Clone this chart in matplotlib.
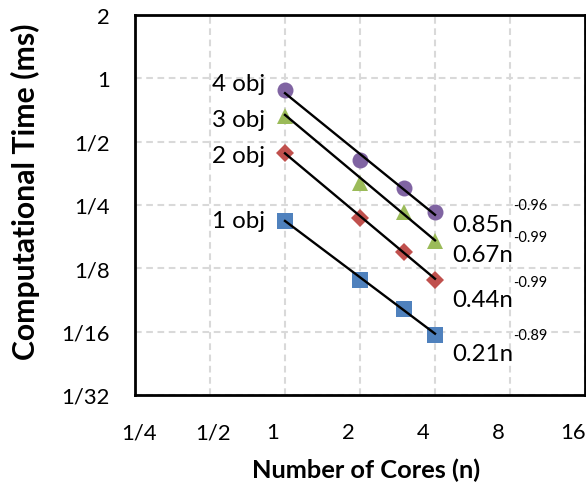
import numpy as np
import matplotlib
matplotlib.use("Agg")
import matplotlib.pyplot as plt
from matplotlib.transforms import ScaledTranslation

plt.rcParams['font.family'] = ['Lato', 'DejaVu Sans']

# ---- data ----
cores = [1, 2, 3, 4]
series_names = ["4 obj", "3 obj", "2 obj", "1 obj"]
t_4obj = [0.883, 0.409, 0.301, 0.231]
t_3obj = [0.664, 0.318, 0.231, 0.169]
t_2obj = [0.442, 0.218, 0.150, 0.110]
t_1obj = [0.209, 0.110, 0.080, 0.0605]
fit_coef = [0.85, 0.67, 0.44, 0.21]
fit_exp = [-0.96, -0.99, -0.99, -0.89]
fit_coef_labels = ["0.85n", "0.67n", "0.44n", "0.21n"]
fit_exp_labels = ["-0.96", "-0.99", "-0.99", "-0.89"]
x_ticks = [0.25, 0.5, 1, 2, 4, 8, 16]
x_tick_labels = ["1/4", "1/2", "1", "2", "4", "8", "16"]
y_ticks = [1/32, 1/16, 1/8, 1/4, 1/2, 1, 2]
y_tick_labels = ["1/32", "1/16", "1/8", "1/4", "1/2", "1", "2"]

series = [t_4obj, t_3obj, t_2obj, t_1obj]
colors = ["#8064A2", "#9BBB59", "#C0504D", "#4F81BD"]
markers = ["o", "^", "D", "s"]
msizes = [11.5, 12, 9.5, 11.5]

# label positions (data coords)
name_pos_y = [0.883, 0.591, 0.399, 0.196]
coef_pos_y = [0.189, 0.135, 0.0825, 0.046]
exp_pos_y = [0.238, 0.169, 0.1035, 0.0577]

fig = plt.figure(figsize=(5.86, 4.85), dpi=100)


def size_for(text, target_px, weight='normal', base=12.0):
    t = fig.text(0, 0, text, fontsize=base, fontweight=weight)
    fig.canvas.draw()
    w = t.get_window_extent(fig.canvas.get_renderer()).width
    t.remove()
    return base * target_px / w


fs_tick = size_for("1/32", 48)
fs_name = size_for("4 obj", 53)
fs_coef = size_for("0.85n", 60.5)
fs_exp = size_for("-0.96", 34)
fs_xlab = size_for("Number of Cores (n)", 227, 'bold')
fs_ylab = size_for("Computational Time (ms)", 333, 'bold')

ax = fig.add_axes([135/586, 89/485, 450/586, 380/485])
ax.set_xscale('log', base=2)
ax.set_yscale('log', base=2)
ax.set_xlim(0.25, 16)
ax.set_ylim(1/32, 2)

ax.grid(True, which='major', color='#d9d9d9', linestyle=(0, (3.2, 2.2)), linewidth=1.5)
ax.set_axisbelow(True)

for vals, c, m, ms in zip(series, colors, markers, msizes):
    ax.plot(cores, vals, linestyle='none', marker=m, color=c, markersize=ms,
            markeredgewidth=0, zorder=3)

xs = np.array([cores[0], cores[-1]], dtype=float)
for a, b in zip(fit_coef, fit_exp):
    ax.plot(xs, a * xs ** b, color='black', linewidth=1.7, zorder=4)

for name, yv in zip(series_names, name_pos_y):
    ax.text(0.831, yv, name, ha='right', va='baseline', fontsize=fs_name)
for lab, e, yc, ye in zip(fit_coef_labels, fit_exp_labels, coef_pos_y, exp_pos_y):
    ax.text(4.68, yc, lab, ha='left', va='baseline', fontsize=fs_coef)
    ax.text(8.23, ye, e, ha='left', va='baseline', fontsize=fs_exp)

ax.set_xticks(x_ticks)
ax.set_xticklabels(x_tick_labels)
ax.set_yticks(y_ticks)
ax.set_yticklabels(y_tick_labels)
ax.minorticks_off()
ax.tick_params(axis='both', length=0, labelsize=fs_tick)
ax.tick_params(axis='x', pad=19.5)
ax.tick_params(axis='y', pad=18)

# Excel-like label offsets on x axis
offsets_px = [4, 3, -12, -12, -12, -12, -12]
for lbl, dx in zip(ax.get_xticklabels(), offsets_px):
    lbl.set_transform(lbl.get_transform() + ScaledTranslation(dx / 100, 0, fig.dpi_scale_trans))

for sp in ax.spines.values():
    sp.set_linewidth(2.0)
    sp.set_color('black')

ax.set_xlabel("Number of Cores (n)", fontsize=fs_xlab, fontweight='bold', va='center')
ax.set_ylabel("Computational Time (ms)", fontsize=fs_ylab, fontweight='bold', va='center')
ax.xaxis.set_label_coords(0.514, -0.195)
ax.yaxis.set_label_coords(-0.244, 0.538)

fig.savefig("out.png", dpi=100)
